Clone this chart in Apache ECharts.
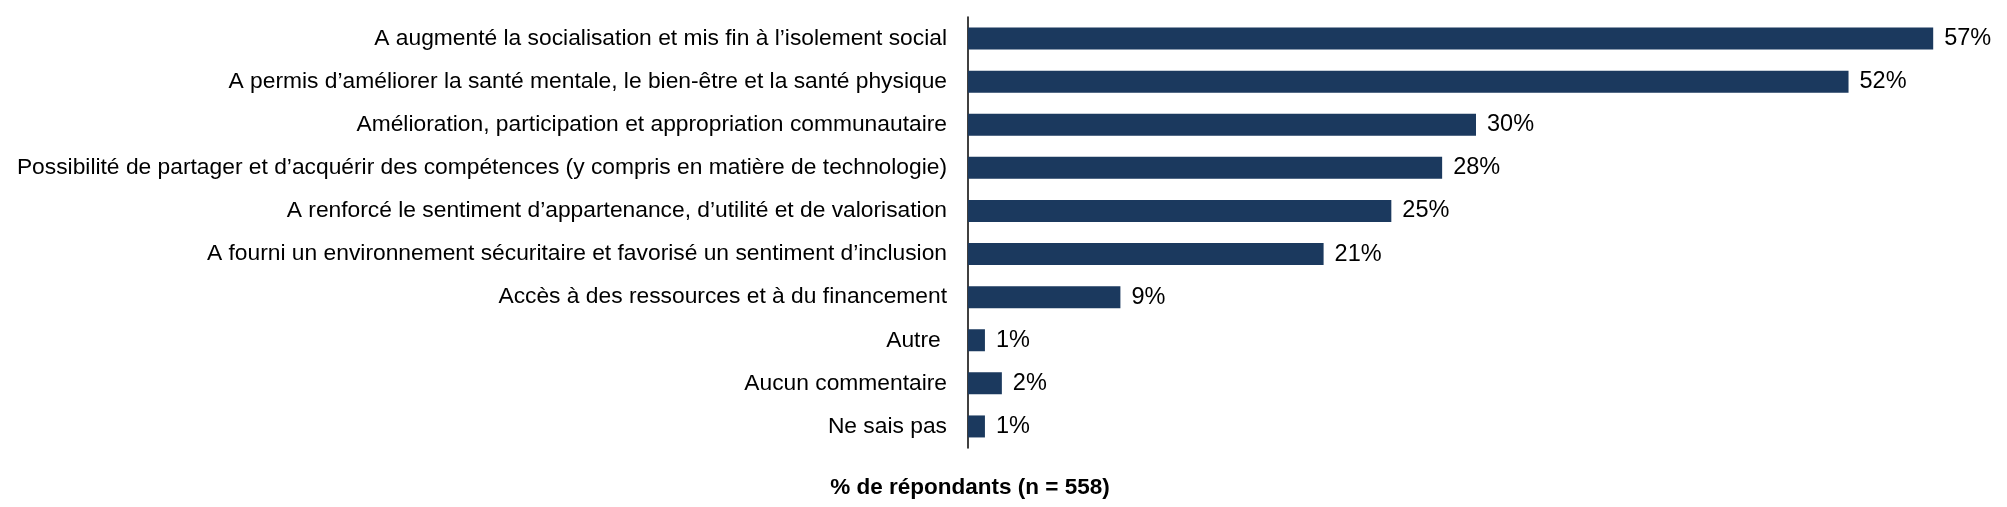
<!DOCTYPE html>
<html><head><meta charset="utf-8">
<script src="https://cdn.jsdelivr.net/npm/echarts@6/dist/echarts.min.js"></script>
<style>html,body{margin:0;padding:0;background:#fff}#c{width:2007px;height:507px}</style>
</head><body><div id="c"></div>
<script>
const categories = [
  "A augmenté la socialisation et mis fin à l’isolement social",
  "A permis d’améliorer la santé mentale, le bien-être et la santé physique",
  "Amélioration, participation et appropriation communautaire",
  "Possibilité de partager et d’acquérir des compétences (y compris en matière de technologie)",
  "A renforcé le sentiment d’appartenance, d’utilité et de valorisation",
  "A fourni un environnement sécuritaire et favorisé un sentiment d’inclusion",
  "Accès à des ressources et à du financement",
  "Autre ",
  "Aucun commentaire",
  "Ne sais pas"
];
const values = [57, 52, 30, 28, 25, 21, 9, 1, 2, 1];
const axisTitle = "% de répondants (n = 558)";

const chart = echarts.init(document.getElementById('c'));
chart.setOption({
  animation: false,
  textStyle: { fontFamily: 'Liberation Sans, Arial, sans-serif' },
  grid: { left: 968, right: 23, top: 17, bottom: 59 },
  xAxis: { type: 'value', min: 0, max: 60, show: false },
  yAxis: {
    type: 'category', inverse: true, data: categories,
    axisLine: { show: true, lineStyle: { color: '#000', width: 1.5 } },
    axisTick: { show: false },
    axisLabel: { color: '#000', fontSize: 22.8, margin: 21 }
  },
  series: [{
    type: 'bar', data: values, barWidth: 22,
    itemStyle: { color: '#1b395e' },
    label: { show: true, position: 'right', distance: 11, color: '#000', fontSize: 23.5, formatter: '{c}%' }
  }],
  graphic: [{
    type: 'text', x: 970, y: 476,
    style: { text: axisTitle, textAlign: 'center', fontSize: 22.5, fontWeight: 'bold', fill: '#000', fontFamily: 'Liberation Sans, Arial, sans-serif' }
  }]
});
</script></body></html>
